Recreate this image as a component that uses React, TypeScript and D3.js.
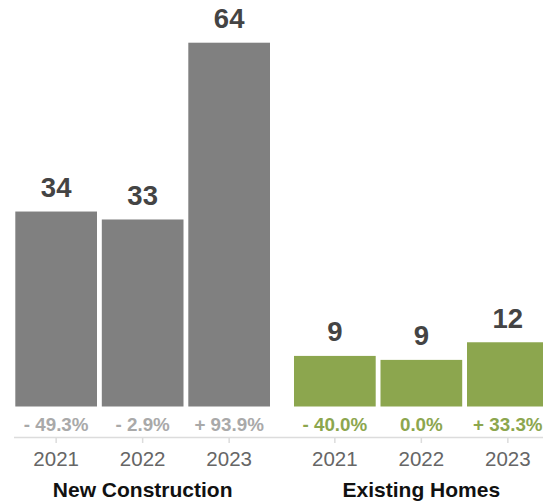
import React from "react";
import * as d3 from "d3";

const groups = ["New Construction", "Existing Homes"];
const years = ["2021", "2022", "2023"];
const newConstruction = [34.3, 32.9, 64];
const existingHomes = [8.9, 8.2, 11.3];
const newLabels = ["34", "33", "64"];
const existingLabels = ["9", "9", "12"];
const newPct = ["- 49.3%", "- 2.9%", "+ 93.9%"];
const existingPct = ["- 40.0%", "0.0%", "+ 33.3%"];

const W = 543;
const H = 503;
const FONT = "'Liberation Sans', Arial, Helvetica, sans-serif";

const series = [
  { name: groups[0], values: newConstruction, labels: newLabels, pct: newPct, color: "#808080", pctColor: "#a9a9a9" },
  { name: groups[1], values: existingHomes, labels: existingLabels, pct: existingPct, color: "#8ca64e", pctColor: "#8ca64e" },
];

export default function App() {
  const x0 = d3.scaleBand<string>().domain(groups).range([15.3, 548.7]).paddingInner(0.0861);
  const x1 = d3.scaleBand<string>().domain(years).range([0, x0.bandwidth()]).paddingInner(0.0555);
  const y = d3.scaleLinear().domain([0, 64]).range([406.5, 42.7]);
  const baseline = y(0);
  const axisY = 437.5;

  return (
    <svg width={W} height={H} style={{ position: "absolute", left: 0, top: 0, fontFamily: FONT }}>
      <rect x={0} y={0} width={W} height={H} fill="#fff" />
      <line x1={14} x2={W} y1={axisY} y2={axisY} stroke="#dcdcdc" strokeWidth={1.5} />
      {series.map((s) => {
        const gx = x0(s.name) ?? 0;
        return (
          <g key={s.name}>
            {years.map((yr, i) => {
              const bx = gx + (x1(yr) ?? 0);
              const bw = x1.bandwidth();
              const cx = bx + bw / 2;
              const top = y(s.values[i]);
              return (
                <g key={yr}>
                  <rect x={bx} y={top} width={bw} height={baseline - top} fill={s.color} />
                  <text x={cx} y={top - 14.5} textAnchor="middle" fontSize={27.5} fontWeight="bold" fill="#444">
                    {s.labels[i]}
                  </text>
                  <text x={cx} y={431.3} textAnchor="middle" fontSize={18.8} fontWeight="bold" fill={s.pctColor}>
                    {s.pct[i]}
                  </text>
                  <line x1={cx} x2={cx} y1={axisY} y2={axisY + 5.5} stroke="#dcdcdc" strokeWidth={1.5} />
                  <text x={cx} y={466} textAnchor="middle" fontSize={20.5} fill="#666">
                    {yr}
                  </text>
                </g>
              );
            })}
            <text x={gx + (x1(years[1]) ?? 0) + x1.bandwidth() / 2} y={497.3} textAnchor="middle" fontSize={21} fontWeight="bold" fill="#111">
              {s.name}
            </text>
          </g>
        );
      })}
    </svg>
  );
}
